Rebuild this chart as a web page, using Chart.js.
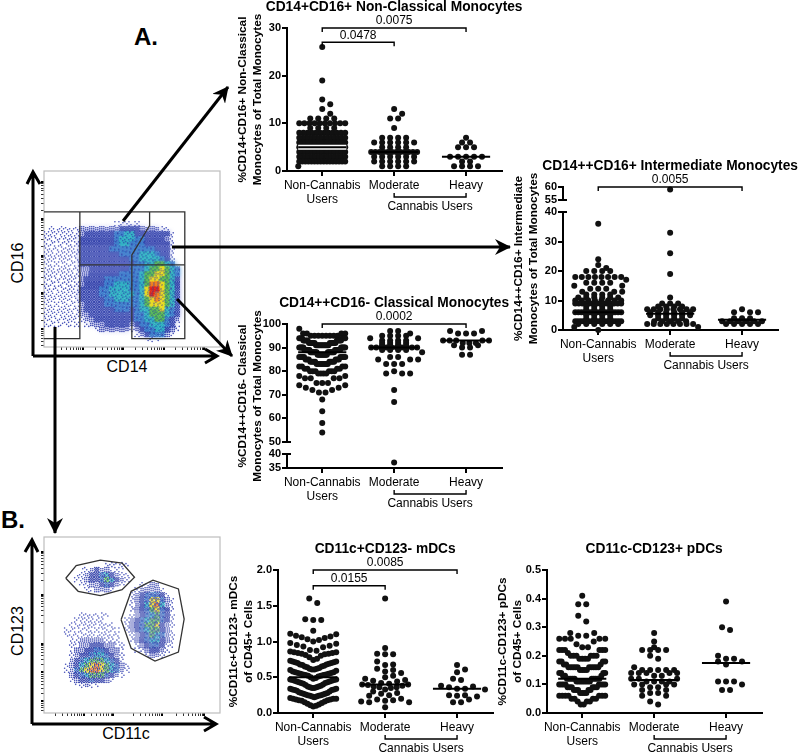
<!DOCTYPE html>
<html>
<head>
<meta charset="utf-8">
<title>Monocytes and dendritic cells in cannabis users</title>
<script src="https://cdn.jsdelivr.net/npm/chart.js@4"></script>
<style>
    html, body { margin: 0; padding: 0; background: #fff; }
    #page { position: relative; width: 800px; height: 754px; overflow: hidden; font-family: 'Liberation Sans', Arial, sans-serif; color: #000; }
    #page canvas { position: absolute; }
    #arrows { position: absolute; left: 0; top: 0; }
    .label { position: absolute; font-size: 16px; line-height: 18px; white-space: nowrap; transform: translate(-50%, -50%); }
    .side { transform: translate(-50%, -50%) rotate(-90deg); }
    .letter { font-size: 24px; line-height: 26px; font-weight: bold; }
</style>
</head>
<body>
<div id="page">
    <div class="label letter" style="left:146px;top:37px">A.</div>
    <div class="label letter" style="left:13px;top:520px">B.</div>
    <div class="label side" style="left:18px;top:263px">CD16</div>
    <div class="label" style="left:127px;top:367px">CD14</div>
    <div class="label side" style="left:18px;top:631px">CD123</div>
    <div class="label" style="left:126px;top:734px">CD11c</div>
    <svg id="arrows" width="800" height="754">
        <defs>
            <marker id="head" markerUnits="userSpaceOnUse" markerWidth="18" markerHeight="16" refX="15" refY="8" orient="auto">
                <path d="M0,0 L16,8 L0,16 L5,8 z" fill="#000"></path>
            </marker>
        </defs>
        <g fill="none" stroke="#000" stroke-width="3">
            <path d="M33,356 L33,172 M27,184 L33,172 L40,184 M33,356 L216,356 M205,349 L217,356 L205,363"></path>
            <path d="M32,724 L32,540 M25,552 L32,540 L38,552 M32,724 L215,724 M204,717 L216,724 L204,731"></path>
            <path d="M123,221 L228,87" marker-end="url(#head)"></path>
            <path d="M172,247 L510,247" marker-end="url(#head)"></path>
            <path d="M177,299 L232,356" marker-end="url(#head)"></path>
            <path d="M55,327 L55,533" marker-end="url(#head)"></path>
        </g>
    </svg>
</div>
<script>
// ---- values ----
const groupLabels = [['Non-Cannabis', 'Users'], ['Moderate'], ['Heavy']];

// CD14+CD16+ non-classical
const nonClassicalNone = [26,19,15,14,13,12,11,11,11,11,
    10,10,10,10,10,10,10,10,10,10, 9,9,9,9, 8,8,8,8,8,8,8,8,8,8,8,8,
    7,7,7,7,7,7,7,7,7,7,7,7,7,7, 6,6,6,6,6,6,6,6,6,6,6,6,6,6,
    5,5,5,5,5,5,5,5,5,5,5,5, 4,4,4,4,4,4,4,4,4,4,4,4,4,4,
    3,3,3,3,3,3,3,3,3,3,3,3,3,3, 2,2,2,2,2,2,2,2,2,2,2,2,2,2,2,2, 1,1,1];
const nonClassicalModerate = [13,12,11,11,9,7,7,7,7,6,6,6,6,6,6,5,5,5,5,
    4,4,4,4,4,4,4,4,4,4,4,4,3,3,3,3,3,3,2,2,2,2,2,2,1,1,1,1];
const nonClassicalHeavy = [7,6,6,5,5,5,3,3,3,3,3,2,2,1,1,1,1];
const nonClassicalMedians = [5, 4, 3];

// CD14++CD16+ intermediate
const intermediateNone = [36,24,22,21,20,20,20,20,18,18,18,18,18,18,18,18,17,17,16,16,16,16,15,15,15,14,14,14,13,13,13,
    12,12,12,12,11,11,11,11,11,11,10,10,10,10,10,10,10,10,
    9,9,9,9,9,9,9,9,9,9,9,9,9,9,8,8,8,8,7,7,7,7,
    6,6,6,6,6,6,6,6,6,6,6,6,6,6,6,6,5,5,5,5,4,4,4,4,
    3,3,3,3,3,3,3,3,3,3,3,3,3,3,3,3,3,3,2,2,2,2,2,2,1,1,1,0];
const intermediateModerate = [59,33,26,19,11,9,9,9,8,8,8,8,7,7,7,7,7,7,7,7,6,6,6,6,6,6,5,5,5,5,5,5,
    4,4,4,4,3,3,3,3,3,2,2,2,2,2,2,2,2,1,1];
const intermediateHeavy = [7,6,6,6,4,4,4,3,3,3,3,3,3,2,2,2,2,2];
const intermediateMedians = [6, 5.5, 3.5];

// CD14++CD16- classical
const classicalNone = [98,96,96,96,96,95,95,95,95,95,95,95,95,94,94,94,94,94,94,93,93,93,93,93,93,93,93,
    92,92,92,92,92,92,92,92,92,92,91,91,91,91,91,91,91,91,91,91,90,90,90,90,90,90,90,90,90,90,
    89,89,89,89,89,89,89,89,89,89,89,89,88,88,88,88,88,88,88,88,88,88,88,88,88,88,
    87,87,87,87,87,87,87,87,87,87,86,86,86,86,86,86,86,86,85,85,85,85,85,85,
    84,84,84,84,84,84,84,84,83,83,83,83,83,83,83,83,82,82,82,82,81,81,81,81,80,80,80,80,80,80,
    79,79,79,79,78,78,77,77,77,77,75,75,75,74,74,73,73,72,72,71,71,68,63,58,54];
const classicalModerate = [97,97,96,95,95,95,95,94,94,94,93,93,93,93,92,92,92,92,91,91,91,91,
    90,90,90,90,90,90,90,90,90,90,89,89,89,89,88,88,86,86,85,85,85,83,83,83,80,79,79,79,72,67,37];
const classicalHeavy = [97,97,96,96,96,93,93,93,93,93,92,92,92,91,91,90,90,87,87];
const classicalMedians = [88, 90, 93];

// CD11c+CD123- mDCs
const mdcNone = [1.6,1.54,1.31,1.3,1.3,1.15,1.11,1.1,1.08,1.07,1.06,1.05,1.03,1.02,1,0.98,0.97,0.95,0.94,0.93,0.92,
    0.88,0.87,0.86,0.85,0.85,0.84,0.84,0.83,0.83,0.82,0.81,0.8,
    0.78,0.76,0.74,0.73,0.72,0.72,0.71,0.71,0.7,0.7,
    0.69,0.68,0.68,0.67,0.66,0.65,0.65,0.64,0.63,0.62,0.62,0.61,0.61,0.6,
    0.59,0.58,0.57,0.57,0.56,0.56,0.55,0.55,0.54,0.54,0.53,0.53,0.52,0.52,0.51,0.5,
    0.49,0.48,0.47,0.47,0.46,0.46,0.45,0.45,0.44,0.44,0.43,0.43,0.42,0.42,0.41,0.4,
    0.39,0.38,0.37,0.37,0.36,0.36,0.35,0.35,0.34,0.34,0.33,0.33,0.32,0.32,0.31,0.3,
    0.29,0.28,0.28,0.27,0.27,0.26,0.26,0.25,0.25,0.24,0.24,0.23,0.23,0.22,0.21,0.2,
    0.2,0.2,0.19,0.19,0.18,0.18,0.17,0.16,0.15,0.14,0.13,0.12,0.11,0.1,0.09];
const mdcModerate = [1.6,0.91,0.83,0.82,0.82,0.72,0.68,0.67,0.62,0.6,0.58,0.56,0.52,0.5,0.48,0.46,0.45,0.44,0.42,0.41,0.4,0.4,
    0.39,0.38,0.37,0.36,0.36,0.35,0.33,0.3,0.28,0.27,0.25,0.24,0.2,0.19,0.18,0.17,0.16,0.15,0.15,0.08];
const mdcHeavy = [0.67,0.61,0.57,0.48,0.46,0.38,0.37,0.36,0.34,0.34,0.33,0.33,0.25,0.25,0.24,0.23,0.19,0.15,0.15];
const mdcMedians = [0.5, 0.4, 0.34];

// CD11c-CD123+ pDCs
const pdcNone = [0.41,0.38,0.38,0.34,0.32,0.28,0.28,0.27,0.27,0.26,0.26,0.26,0.26,0.26,0.25,0.24,0.23,0.23,
    0.22,0.22,0.22,0.22,0.22,0.22,0.21,0.2,0.2,0.2,0.2,0.2,0.2,0.19,0.19,0.19,0.19,0.18,0.18,0.18,0.18,0.17,0.17,0.17,
    0.16,0.16,0.16,0.16,0.16,0.16,0.16,0.16,0.16,0.16,0.15,0.15,0.15,0.15,0.14,0.14,0.14,0.14,0.13,0.13,0.13,
    0.12,0.12,0.12,0.12,0.12,0.12,0.12,0.12,0.12,0.12,0.11,0.11,0.11,0.11,0.11,0.11,0.11,0.11,
    0.1,0.1,0.1,0.1,0.1,0.1,0.1,0.1,0.09,0.09,0.09,0.09,0.09,0.09,0.08,0.08,0.08,0.08,0.08,0.07,0.07,0.07,0.07,
    0.06,0.06,0.06,0.06,0.06,0.06,0.06,0.05,0.05,0.05,0.05,0.04,0.04,0.04,0.03,0.03];
const pdcModerate = [0.28,0.25,0.23,0.22,0.22,0.22,0.22,0.2,0.19,0.16,0.15,0.15,0.15,0.15,0.15,0.14,0.14,0.14,0.14,0.14,
    0.13,0.13,0.12,0.12,0.12,0.11,0.11,0.11,0.11,0.1,0.1,0.1,0.1,0.09,0.09,0.08,0.08,0.07,0.07,0.06,0.06,0.04,0.03];
const pdcHeavy = [0.39,0.3,0.29,0.2,0.19,0.19,0.18,0.18,0.17,0.11,0.11,0.11,0.1,0.08,0.08];
const pdcMedians = [0.12, 0.115, 0.175];

// flow plots: event density on a 35 x 35 grid, top row first (0 = empty, 9 = hottest)
const cd14Density = ['','','','','','','','','','',
    '000000000000001111100',
    '0111111222222223333222211',
    '11111112333333445533333331',
    '11111113333333455544333321',
    '11111113333333455444333331',
    '11111113333334444444443331',
    '11111113333333344445554331',
    '11111113333333333445555431',
    '11111113333333333344556654',
    '111111122333333334445667654',
    '111111122333333444456677654',
    '111111123333444444456776653',
    '111111123333445554456887653',
    '111111133334455554457997653',
    '111111133334455555457987653',
    '111111133333445554456787653',
    '111111123333444444456777653',
    '111111123333334443455667543',
    '111111122333333333445666543',
    '111111112233333333445566432',
    '111111101222333332344555431',
    '000000000012222221234455321',
    '000000000000000000123444210',
    '000000000000000000001110'];
const cd11cDensity = ['','','','','',
    '00000000000011111',
    '0000000112322111',
    '00000011233453211',
    '00000011233465321',
    '00000001122343210001122',
    '000000001122210000122221',
    '0000000000000000012344431',
    '00000000000000000123477421',
    '00000000000000000123578521',
    '00000000000000000123467431',
    '00000001111110000123456431',
    '00000011111100001234566431',
    '00000111111111001234667321',
    '00001111111111101234566321',
    '00001111111111100123465421',
    '00000112222211100123455321',
    '00000112233322110012344311',
    '00000122334432210011233210',
    '00000123345543210000122100',
    '0000023456665431',
    '00001235678765421',
    '00001246788765421',
    '00000234566643210',
    '00000123343321',
    '0000001121100'];
const cd14Gates = [
    [[0,26.87],[28,26.87],[28,1.67],[17.47,1.67],[17.47,18.33],[21,24.13],[21,26.87]],
    [[0,1.67],[7.13,1.67],[7.13,26.87]],
    [[7.13,16.33],[28,16.33]]
];
const cd11cGates = [
    [[4.33,26.8],[6.4,29.33],[11.2,30.4],[15.53,29.8],[18,27],[15.53,24.53],[11.2,23.33],[6.8,24.2],[4.33,26.8]],
    [[15.33,18.53],[17.33,24.2],[21.67,26.4],[26.73,24.67],[27.87,18.67],[26.73,12.13],[22.07,10.33],[17.33,12.87],[15.33,18.53]]
];
const cd14TicksX = [7.67, 15.8, 23.8, 31.8];
const cd14TicksY = [3.5, 10.8, 18.1, 25.5, 32.8];
const cd11cTicksX = [7.9, 13.7, 23.4, 31.9];
const cd11cTicksY = [2.3, 8.1, 13.8, 23.5, 32];

// colour of a density level, as a soft wash and as single dots
const washColors = ['', '', '#dfe1f7', '#a3abe8', '#5a9bdc', '#3fc4c6', '#58bf55', '#f2e21e', '#f08a1e', '#e2231a'];
const dotColors = ['', '#4450b8', '#3a46b0', '#2f3ea8', '#2f6fc4', '#26a8c0', '#4cb050', '#e8d818', '#f07a18', '#dc1c14'];
const dotShare = [0, 0.1, 0.25, 0.5, 0.55, 0.6, 0.62, 0.65, 0.7, 0.7];

// 8 x 8 ordered dither, so the density reads as single events without any randomness
const ditherMatrix = [
    [0,32,8,40,2,34,10,42],
    [48,16,56,24,50,18,58,26],
    [12,44,4,36,14,46,6,38],
    [60,28,52,20,62,30,54,22],
    [3,35,11,43,1,33,9,41],
    [51,19,59,27,49,17,57,25],
    [15,47,7,39,13,45,5,37],
    [63,31,55,23,61,29,53,21]
];

Chart.defaults.font.family = "'Liberation Sans', Arial, sans-serif";
Chart.defaults.color = '#000';

const page = document.getElementById('page');

function addCanvas(left, top, width, height) {
    const canvas = document.createElement('canvas');
    canvas.width = width;
    canvas.height = height;
    canvas.style.left = left + 'px';
    canvas.style.top = top + 'px';
    canvas.style.width = width + 'px';
    canvas.style.height = height + 'px';
    page.insertBefore(canvas, document.getElementById('arrows'));
    return canvas;
}

// Prism style column scatter: values in one bin sit side by side, lowest in the middle
function swarm(values, group, binWidth, binBase, pxPerUnit) {
    const bins = new Map();
    [...values].sort((a, b) => a - b).forEach((v) => {
        const key = Math.floor((v - binBase) / binWidth + 1e-6);
        if (!bins.has(key)) bins.set(key, []);
        bins.get(key).push(v);
    });
    const placed = [];
    const keys = [...bins.keys()].sort((a, b) => b - a);
    keys.forEach((key) => {
        const row = bins.get(key);
        const n = row.length;
        const step = n > 1 ? Math.min(8, 46 / (n - 1)) : 8;
        const slots = [];
        for (let i = 0; i < Math.max(n, 7); i++) {
            const side = i % 2 === 0 ? -1 : 1;
            const k = Math.ceil(i / 2);
            slots.push(n % 2 === 1 ? side * k : (i % 2 === 0 ? 1 : -1) * (Math.floor(i / 2) + 0.5));
        }
        let next = 0;
        row.forEach((v) => {
            let off = slots[next] * step;
            if (n <= 3) {
                // sparse rows step aside when the row above is in the way
                while (next < slots.length - 1 && placed.some((p) => Math.hypot(p.px - slots[next] * step, (p.y - v) * pxPerUnit) < 5.5)) {
                    next++;
                }
                off = slots[next] * step;
            }
            next++;
            placed.push({ px: off, x: group + off / 72, y: v });
        });
    });
    return placed;
}

function densityCells(rows) {
    const cells = [];
    rows.forEach((row, r) => {
        row.split('').forEach((ch, c) => {
            if (washColors[Number(ch)]) cells.push({ x: c + 0.5, y: 35 - r - 0.5, d: Number(ch) });
        });
    });
    return cells.sort((a, b) => a.d - b.d);
}

function densityDots(rows, mix) {
    const dots = [];
    rows.forEach((row, r) => {
        row.split('').forEach((ch, c) => {
            const d = Number(ch);
            if (!d) return;
            for (let i = 0; i < 5; i++) {
                for (let j = 0; j < 5; j++) {
                    // the matrix is shifted from cell to cell so no lattice shows
                    const t = ditherMatrix[(r * 5 + j + c * 3) % 8][(c * 5 + i + r * 5) % 8] / 64;
                    if (t < dotShare[d]) {
                        const own = t < dotShare[d] * mix;
                        dots.push({ x: c + (i + 0.5) / 5, y: 35 - r - (j + 0.5) / 5, d: own ? d : Math.min(d, 3) });
                    }
                }
            }
        });
    });
    return dots;
}

// decade ticks with the log minor ticks below each one
function logTicks(majors) {
    const ticks = [];
    majors.forEach((m) => {
        ticks.push({ value: m, major: true });
        for (let i = 2; i < 10; i++) {
            const value = m - 8 * (1 - Math.log10(i));
            if (value > 0) ticks.push({ value: value });
        }
    });
    return ticks;
}

const panelLeft = 55;
const panelTop = 32;
const panelRight = 25;
const panelBottom = 45;

const panelNotes = {
    id: 'panelNotes',
    afterDraw(chart, args, opts) {
        const { ctx, chartArea, scales } = chart;
        const x = scales.x;
        ctx.save();
        ctx.fillStyle = '#000';
        ctx.textAlign = 'center';
        ctx.textBaseline = 'middle';

        ctx.font = "bold 13.75px 'Liberation Sans'";
        ctx.fillText(opts.title, x.getPixelForValue(1), chartArea.top - 21);

        ctx.save();
        ctx.translate(chartArea.left - 44, (chartArea.top + chartArea.bottom) / 2);
        ctx.rotate(-Math.PI / 2);
        ctx.font = "bold 11.8px 'Liberation Sans'";
        ctx.fillText(opts.yTitle[0], 0, 0);
        ctx.fillText(opts.yTitle[1], 0, 14.5);
        ctx.restore();

        ctx.strokeStyle = '#000';
        ctx.lineWidth = 1.4;
        ctx.font = "12px 'Liberation Sans'";
        opts.brackets.forEach((b) => {
            const y = scales[b.axis].getPixelForValue(b.y);
            const x1 = x.getPixelForValue(b.from);
            const x2 = x.getPixelForValue(b.to);
            ctx.beginPath();
            ctx.moveTo(x1, y + 4);
            ctx.lineTo(x1, y);
            ctx.lineTo(x2, y);
            ctx.lineTo(x2, y + 4);
            ctx.stroke();
            ctx.fillText(b.label, (x1 + x2) / 2, y - 7);
        });

        // bracket under the two cannabis groups
        const m1 = x.getPixelForValue(1);
        const m2 = x.getPixelForValue(2);
        const by = chartArea.bottom + 26;
        ctx.beginPath();
        ctx.moveTo(m1, by - 4);
        ctx.lineTo(m1, by);
        ctx.lineTo(m2, by);
        ctx.lineTo(m2, by - 4);
        ctx.stroke();
        ctx.fillText('Cannabis Users', (m1 + m2) / 2, chartArea.bottom + 36);

        // axis break marks stick out on the plot side too
        ctx.lineWidth = 2;
        (opts.breakMarks || []).forEach((m) => {
            const y = scales[m.axis].getPixelForValue(m.y);
            ctx.beginPath();
            ctx.moveTo(chartArea.left, y);
            ctx.lineTo(chartArea.left + 4, y);
            ctx.stroke();
        });
        ctx.restore();
    }
};

function makePanel(p) {
    const plotW = 215;
    const plotH = p.segments.reduce((sum, s) => sum + s.px, 0);
    const canvas = addCanvas(p.axisX - panelLeft, p.top - panelTop, panelLeft + plotW + panelRight, panelTop + plotH + panelBottom);

    const datasets = [];
    const scales = {
        x: {
            type: 'linear',
            min: -0.49,
            max: 2.5,
            afterBuildTicks: (axis) => { axis.ticks = groupLabels.map((l, i) => ({ value: i })); },
            afterFit: (axis) => { axis.height = panelBottom; },
            border: { color: '#000', width: 2 },
            grid: { drawOnChartArea: false, color: '#000', lineWidth: 2, tickLength: 5 },
            ticks: {
                autoSkip: false,
                maxRotation: 0,
                padding: 3,
                font: { size: 12, lineHeight: 1.17 },
                callback: (v) => groupLabels[v]
            }
        }
    };

    p.segments.forEach((seg, i) => {
        const id = 'y' + i;
        scales[id] = {
            type: 'linear',
            position: 'left',
            stack: 'value',
            stackWeight: seg.px,
            weight: i,
            min: seg.min,
            max: seg.max,
            afterFit: (axis) => { axis.width = panelLeft; },
            border: { display: !!seg.step, color: '#000', width: 2 },
            grid: { display: !!seg.step, drawOnChartArea: false, color: '#000', lineWidth: 2, tickLength: 5 },
            ticks: {
                display: !!seg.step,
                stepSize: seg.step,
                autoSkip: false,
                padding: 1,
                font: { size: 11, weight: 'bold' },
                callback: (v) => (p.decimals ? v.toFixed(p.decimals) : v)
            }
        };
    });

    p.medians.forEach((m, g) => {
        const seg = p.segments.findIndex((s) => s.step && m >= s.min && m <= s.max);
        const line = [{ x: g - 0.335, y: m }, { x: g + 0.335, y: m }];
        datasets.push({
            data: line,
            yAxisID: 'y' + seg,
            showLine: true,
            borderColor: '#000',
            borderWidth: 2,
            pointRadius: 0,
            clip: false
        });
        if (p.halo === g) {
            datasets.push({
                data: line,
                yAxisID: 'y' + seg,
                showLine: true,
                borderColor: '#fff',
                borderWidth: 5,
                pointRadius: 0,
                clip: false
            });
        }
    });

    p.groups.forEach((values, g) => {
        const main = p.segments.find((s) => s.step && s.px > 50);
        const pts = swarm(values, g, p.bins[g], p.binBase[g], main.px / (main.max - main.min));
        p.segments.forEach((seg, i) => {
            if (!seg.step) return;
            datasets.push({
                data: pts.filter((pt) => pt.y >= seg.min && pt.y <= seg.max),
                yAxisID: 'y' + i,
                backgroundColor: '#111',
                borderWidth: 0,
                pointRadius: 3,
                clip: false
            });
        });
    });

    new Chart(canvas, {
        type: 'scatter',
        data: { datasets: datasets },
        options: {
            responsive: false,
            animation: false,
            layout: { padding: { left: 0, right: panelRight, top: panelTop, bottom: 0 } },
            scales: scales,
            plugins: {
                legend: { display: false },
                tooltip: { enabled: false },
                panelNotes: { title: p.title, yTitle: p.yTitle, brackets: p.brackets, breakMarks: p.breakMarks }
            }
        },
        plugins: [panelNotes]
    });
}

const flowFrame = {
    id: 'flowFrame',
    beforeDatasetDraw(chart, args) {
        if (chart.data.datasets[args.index].wash) {
            chart.ctx.save();
            chart.ctx.filter = 'blur(2px)';
        }
    },
    afterDatasetDraw(chart, args) {
        if (chart.data.datasets[args.index].wash) chart.ctx.restore();
    },
    beforeDatasetsDraw(chart) {
        const a = chart.chartArea;
        chart.ctx.save();
        chart.ctx.strokeStyle = '#bdbdbd';
        chart.ctx.lineWidth = 1.2;
        chart.ctx.strokeRect(a.left, a.top, a.right - a.left, a.bottom - a.top);
        chart.ctx.restore();
    }
};

function makeFlow(f) {
    const margin = 6;
    const canvas = addCanvas(f.left - margin, f.top - margin, 176 + margin * 2, 176 + margin * 2);
    const axis = (majors, pos) => ({
        type: 'linear',
        min: 0,
        max: 35,
        position: pos,
        afterBuildTicks: (a) => { a.ticks = logTicks(majors); },
        afterFit: (a) => { if (pos === 'left') a.width = margin; else a.height = margin; },
        border: { display: false },
        grid: {
            drawOnChartArea: false,
            color: '#000',
            tickLength: 3,
            lineWidth: (c) => (c.tick && c.tick.major ? 2 : 0.8)
        },
        ticks: { display: false, autoSkip: false }
    });
    const datasets = f.gates.map((g) => ({
        data: g.map((pt) => ({ x: pt[0], y: pt[1] })),
        showLine: true,
        borderColor: '#333',
        borderWidth: 1.3,
        pointRadius: 0
    }));
    datasets.push({
        data: densityDots(f.density, f.mix),
        pointRadius: 0.8,
        borderWidth: 0,
        backgroundColor: (c) => (c.raw ? dotColors[c.raw.d] : '#fff')
    });
    if (f.wash) {
        datasets.push({
            wash: true,
            data: densityCells(f.density),
            pointStyle: 'rect',
            pointRadius: 4,
            borderWidth: 0,
            backgroundColor: (c) => (c.raw ? washColors[c.raw.d] : '#fff')
        });
    }
    new Chart(canvas, {
        type: 'scatter',
        data: { datasets: datasets },
        options: {
            responsive: false,
            animation: false,
            layout: { padding: { right: margin, top: margin } },
            scales: { x: axis(f.ticksX, 'bottom'), y: axis(f.ticksY, 'left') },
            plugins: { legend: { display: false }, tooltip: { enabled: false } }
        },
        plugins: [flowFrame]
    });
}

makeFlow({ left: 44, top: 171, density: cd14Density, wash: true, mix: 0.8, gates: cd14Gates, ticksX: cd14TicksX, ticksY: cd14TicksY });
makeFlow({ left: 44, top: 537, density: cd11cDensity, wash: false, mix: 0.55, gates: cd11cGates, ticksX: cd11cTicksX, ticksY: cd11cTicksY });

makePanel({
    title: 'CD14+CD16+ Non-Classical Monocytes',
    yTitle: ['%CD14+CD16+ Non-Classical', 'Monocytes of Total Monocytes'],
    axisX: 287, top: 28,
    segments: [{ min: 0, max: 30, step: 10, px: 143 }],
    groups: [nonClassicalNone, nonClassicalModerate, nonClassicalHeavy],
    medians: nonClassicalMedians,
    bins: [1, 1, 1], binBase: [0, 0, 0], halo: 0,
    brackets: [
        { axis: 'y0', y: 30, from: 0, to: 2, label: '0.0075' },
        { axis: 'y0', y: 27, from: 0, to: 1, label: '0.0478' }
    ]
});
makePanel({
    title: 'CD14++CD16+ Intermediate Monocytes',
    yTitle: ['%CD14++CD16+ Intermediate', 'Monocytes of Total Monocytes'],
    axisX: 563, top: 187,
    segments: [{ min: 0, max: 40, step: 10, px: 118 }, { min: 40, max: 55, px: 12 }, { min: 55, max: 60, step: 5, px: 13 }],
    groups: [intermediateNone, intermediateModerate, intermediateHeavy],
    medians: intermediateMedians,
    bins: [1, 1, 1], binBase: [0, 0, 0],
    brackets: [{ axis: 'y2', y: 60, from: 0, to: 2, label: '0.0055' }],
    breakMarks: [{ axis: 'y0', y: 40 }, { axis: 'y2', y: 55 }]
});
makePanel({
    title: 'CD14++CD16- Classical Monocytes',
    yTitle: ['%CD14++CD16- Classical', 'Monocytes of Total Monocytes'],
    axisX: 287, top: 324,
    segments: [{ min: 35, max: 40, step: 5, px: 14 }, { min: 40, max: 50, px: 12 }, { min: 50, max: 100, step: 10, px: 118 }],
    groups: [classicalNone, classicalModerate, classicalHeavy],
    medians: classicalMedians,
    bins: [4, 1, 2], binBase: [3, 0, 0],
    brackets: [{ axis: 'y2', y: 100, from: 0, to: 2, label: '0.0002' }],
    breakMarks: [{ axis: 'y0', y: 40 }, { axis: 'y2', y: 50 }]
});
makePanel({
    title: 'CD11c+CD123- mDCs',
    yTitle: ['%CD11c+CD123- mDCs', 'of CD45+ Cells'],
    axisX: 278, top: 570, decimals: 1,
    segments: [{ min: 0, max: 2, step: 0.5, px: 143 }],
    groups: [mdcNone, mdcModerate, mdcHeavy],
    medians: mdcMedians,
    bins: [0.13, 0.08, 0.05], binBase: [0.09, 0.09, 0.09],
    brackets: [
        { axis: 'y0', y: 2, from: 0, to: 2, label: '0.0085' },
        { axis: 'y0', y: 1.78, from: 0, to: 1, label: '0.0155' }
    ]
});
makePanel({
    title: 'CD11c-CD123+ pDCs',
    yTitle: ['%CD11c-CD123+ pDCs', 'of CD45+ Cells'],
    axisX: 547, top: 570, decimals: 1,
    segments: [{ min: 0, max: 0.5, step: 0.1, px: 143 }],
    groups: [pdcNone, pdcModerate, pdcHeavy],
    medians: pdcMedians,
    bins: [0.04, 0.02, 0.02], binBase: [0.03, 0.03, 0.03],
    brackets: []
});
</script>
</body>
</html>
